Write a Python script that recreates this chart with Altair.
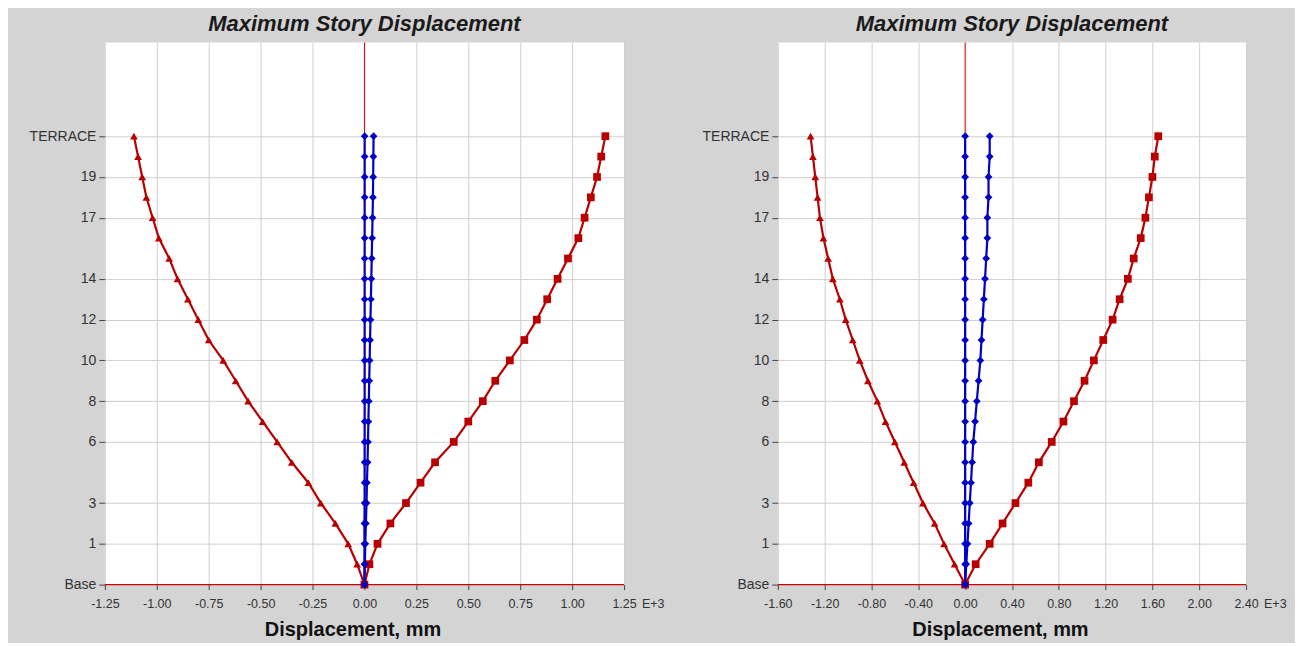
import altair as alt
import pandas as pd

# Story levels (index 0 = Base ... 22 = TERRACE)
story_names = ["Base", "Plinth"] + [str(i) for i in range(1, 21)] + ["TERRACE"]
labeled_stories = ["Base", "1", "3", "6", "8", "10", "12", "14", "17", "19", "TERRACE"]

# Left panel (values in E+3 mm)
left_neg = [0, -0.035, -0.078, -0.14, -0.21, -0.27, -0.35, -0.42, -0.49, -0.56, -0.62, -0.68,
            -0.75, -0.80, -0.85, -0.90, -0.94, -0.99, -1.02, -1.05, -1.07, -1.09, -1.11]
left_pos = [0, 0.024, 0.063, 0.125, 0.20, 0.27, 0.34, 0.43, 0.50, 0.57, 0.63, 0.70,
            0.77, 0.83, 0.88, 0.93, 0.98, 1.03, 1.06, 1.09, 1.12, 1.14, 1.16]
left_blue1 = [0, 0.0, 0.0, 0.0, 0.001, 0.001, 0.001, 0.001, 0.001, 0.001, 0.001, 0.001,
              0.001, 0.001, 0.001, 0.001, 0.001, 0.001, 0.001, 0.001, 0.001, 0.001, 0.001]
left_blue2 = [0, 0.002, 0.004, 0.007, 0.010, 0.012, 0.015, 0.017, 0.019, 0.021, 0.023, 0.025,
              0.027, 0.029, 0.031, 0.033, 0.035, 0.037, 0.039, 0.041, 0.042, 0.043, 0.044]

# Right panel (values in E+3 mm)
right_neg = [0, -0.09, -0.18, -0.26, -0.36, -0.44, -0.52, -0.60, -0.68, -0.75, -0.83, -0.90,
             -0.96, -1.02, -1.07, -1.13, -1.17, -1.21, -1.24, -1.26, -1.28, -1.30, -1.32]
right_pos = [0, 0.09, 0.21, 0.32, 0.43, 0.54, 0.63, 0.74, 0.84, 0.93, 1.02, 1.10,
             1.18, 1.26, 1.32, 1.39, 1.44, 1.50, 1.54, 1.57, 1.60, 1.62, 1.65]
right_blue1 = [0, 0.0, 0.0, 0.0, 0.0, 0.0, 0.0, 0.0, 0.0, 0.0, 0.0, 0.0,
               0.0, 0.0, 0.0, 0.0, 0.0, 0.0, 0.0, 0.0, 0.0, 0.0, 0.0]
right_blue2 = [0, 0.01, 0.02, 0.03, 0.04, 0.05, 0.06, 0.07, 0.085, 0.10, 0.115, 0.13,
               0.14, 0.15, 0.16, 0.17, 0.18, 0.19, 0.19, 0.20, 0.20, 0.21, 0.21]

left_ticks = [-1.25, -1.00, -0.75, -0.50, -0.25, 0.00, 0.25, 0.50, 0.75, 1.00, 1.25]
right_ticks = [-1.60, -1.20, -0.80, -0.40, 0.00, 0.40, 0.80, 1.20, 1.60, 2.00, 2.40]

TITLE = "Maximum Story Displacement"
XTITLE = "Displacement, mm"
EXP = "E+3"
FONT = "Liberation Sans"

label_positions = [story_names.index(s) for s in labeled_stories]
label_expr = " : ".join(
    f"datum.value == {p} ? '{s}'" for p, s in zip(label_positions, labeled_stories)
) + " : ''"


def make_df(neg, pos, b1, b2):
    rows = []
    for name, vals in [("neg", neg), ("pos", pos), ("blue1", b1), ("blue2", b2)]:
        for lvl, v in enumerate(vals):
            rows.append({"series": name, "level": lvl, "story": story_names[lvl], "disp": v})
    return pd.DataFrame(rows)


SERIES = ["neg", "pos", "blue1", "blue2"]


def panel(df, ticks, width, height):
    dmin, dmax = ticks[0], ticks[-1]
    xs = alt.Scale(domain=[dmin, dmax], nice=False, zero=False)
    ys = alt.Scale(domain=[0, 26.6], nice=False, zero=False)
    x_axis = alt.Axis(
        values=ticks,
        labelExpr="replace(format(datum.value, '.2f'), '\u2212', '-')",
        title=XTITLE,
        grid=True, gridColor="#cfcfcf", gridWidth=1, domain=False,
        ticks=True, tickSize=5, tickColor="#444", labelFontSize=12.5, labelColor="#333",
        labelFont=FONT, labelPadding=8, labelOverlap=False, labelFlush=False,
        titleFont=FONT, titleFontSize=20,
        titleFontWeight="bold", titleColor="#111", titlePadding=9,
        titleX=width / 2 - 12,
    )
    y_axis = alt.Axis(
        values=label_positions, labelExpr=label_expr, title=None,
        grid=True, gridColor="#cfcfcf", gridWidth=1, domain=False,
        ticks=True, tickSize=6, tickColor="#444", labelFontSize=14, labelColor="#333",
        labelFont=FONT, labelPadding=3, labelOverlap=False, labelFlush=False,
    )
    base = alt.Chart(df)
    lines = base.mark_line(strokeWidth=2.2).encode(
        x=alt.X("disp:Q", scale=xs, axis=x_axis),
        y=alt.Y("level:Q", scale=ys, axis=y_axis),
        color=alt.Color("series:N",
                        scale=alt.Scale(domain=SERIES,
                                        range=["#b80000", "#b80000", "#0000c8", "#0000c8"]),
                        legend=None),
        detail="series:N",
        order="level:Q",
    )
    points = base.mark_point(filled=True, opacity=1, size=60).encode(
        x=alt.X("disp:Q", scale=xs),
        y=alt.Y("level:Q", scale=ys),
        color=alt.Color("series:N",
                        scale=alt.Scale(domain=SERIES,
                                        range=["#ff0000", "#ff0000", "#0000ff", "#0000ff"]),
                        legend=None),
        shape=alt.Shape("series:N",
                        scale=alt.Scale(domain=SERIES,
                                        range=["triangle-up", "square", "diamond", "diamond"]),
                        legend=None),
    )
    zero_df = pd.DataFrame({"disp": [0.0], "level": [0]})
    vline = alt.Chart(zero_df).mark_rule(color="#d00000", strokeWidth=1).encode(
        x=alt.X("disp:Q", scale=xs))
    hline = alt.Chart(zero_df).mark_rule(color="#d00000", strokeWidth=1.3).encode(
        y=alt.Y("level:Q", scale=ys))
    exp_df = pd.DataFrame({"disp": [dmax], "txt": [EXP]})
    exp_text = alt.Chart(exp_df).mark_text(
        align="left", baseline="top", font=FONT, fontSize=12.5, color="#333", dx=18, dy=13
    ).encode(x=alt.X("disp:Q", scale=xs), y=alt.value(height), text="txt:N")
    return alt.layer(vline, hline, lines, points, exp_text).properties(
        width=width, height=height,
        title=alt.TitleParams(TITLE, font=FONT, fontSize=22, fontWeight="bold",
                              fontStyle="italic", color="#1a1a1a", anchor="middle",
                              offset=6),
    )


left = panel(make_df(left_neg, left_pos, left_blue1, left_blue2), left_ticks, 520, 543)
right = panel(make_df(right_neg, right_pos, right_blue1, right_blue2), right_ticks, 469, 543)

chart = alt.hconcat(left, right, spacing=37).properties(
    background="#d4d4d4",
    padding={"left": 21, "top": 4, "right": 8, "bottom": 3},
).configure_view(fill="white", stroke=None)

chart.save("out.html", embed_options={"renderer": "svg", "actions": False})
